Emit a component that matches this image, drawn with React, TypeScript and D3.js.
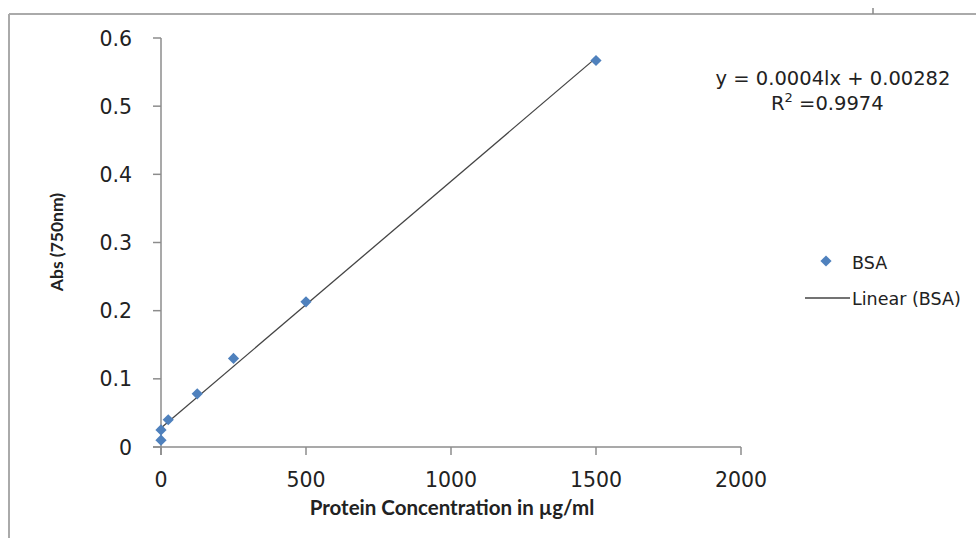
import React from "react";
import * as d3 from "d3";

const concentrations = [0, 0, 25, 125, 250, 500, 1500];
const absorbances = [0.01, 0.025, 0.04, 0.078, 0.13, 0.213, 0.567];
const xTicks = [0, 500, 1000, 1500, 2000];
const yTicks = [0, 0.1, 0.2, 0.3, 0.4, 0.5, 0.6];
const equationText = "y = 0.0004lx + 0.00282";
const r2Value = "=0.9974";
const seriesName = "BSA";
const trendName = "Linear (BSA)";

export default function App() {
  const W = 976, H = 538;
  const x = d3.scaleLinear().domain([0, 2000]).range([161, 741]);
  const y = d3.scaleLinear().domain([0, 0.6]).range([447, 38]);
  const pts = concentrations.map((c, i) => ({ c, a: absorbances[i] }));
  const mx = d3.mean(concentrations)!;
  const my = d3.mean(absorbances)!;
  let sxy = 0, sxx = 0;
  pts.forEach(p => { sxy += (p.c - mx) * (p.a - my); sxx += (p.c - mx) ** 2; });
  const slope = sxy / sxx;
  const icpt = my - slope * mx;
  const xmin = d3.min(concentrations)!, xmax = d3.max(concentrations)!;
  const line = d3.line<number>().x(v => x(v)).y(v => y(slope * v + icpt));
  const diamond = d3.symbol().type(d3.symbolDiamond2).size(80)()!;
  const blue = "#4f81bd";
  const axisCol = "#8c8c8c";
  const tickFont = "'DejaVu Sans', Verdana, sans-serif";
  return (
    <svg width={W} height={H} style={{ position: "absolute", left: 0, top: 0, background: "#fff" }}>
      <rect x={0} y={0} width={W} height={H} fill="#fff" />
      {/* outer frame */}
      <line x1={9} y1={14} x2={976} y2={14} stroke="#aaa" strokeWidth={2} />
      <line x1={9} y1={14} x2={9} y2={538} stroke="#aaa" strokeWidth={2} />
      <line x1={873} y1={8} x2={873} y2={14} stroke="#888" strokeWidth={1.5} />
      {/* y axis */}
      <line x1={161} y1={y(0.6)} x2={161} y2={y(0) + 8} stroke={axisCol} strokeWidth={1.5} />
      {yTicks.map(t => (
        <g key={"y" + t}>
          <line x1={153} x2={161} y1={y(t)} y2={y(t)} stroke={axisCol} strokeWidth={1.5} />
          <text x={132} y={y(t) + 7.5} textAnchor="end" fontFamily={tickFont} fontSize={20.5} fill="#222">{t === 0 ? "0" : t.toFixed(1)}</text>
        </g>
      ))}
      {/* x axis */}
      <line x1={153} y1={y(0)} x2={x(2000)} y2={y(0)} stroke={axisCol} strokeWidth={1.5} />
      {xTicks.map(t => (
        <g key={"x" + t}>
          <line x1={x(t)} x2={x(t)} y1={y(0)} y2={y(0) + 8} stroke={axisCol} strokeWidth={1.5} />
          <text x={x(t)} y={487} textAnchor="middle" fontFamily={tickFont} fontSize={20.5} fill="#222">{t}</text>
        </g>
      ))}
      {/* trendline */}
      <path d={line([xmin, xmax])!} stroke="#444" strokeWidth={1.3} fill="none" />
      {/* points */}
      {pts.map((p, i) => (
        <path key={i} d={diamond} transform={`translate(${x(p.c)},${y(p.a)})`} fill={blue} />
      ))}
      {/* axis titles */}
      <text x={452} y={515} textAnchor="middle" fontFamily="Lato, 'Open Sans', sans-serif" fontWeight="bold" fontSize={20.5} fill="#222">Protein Concentration in µg/ml</text>
      <text transform="translate(63,242) rotate(-90)" textAnchor="middle" fontFamily="Lato, 'Open Sans', sans-serif" fontWeight="bold" fontSize={17.5} fill="#222">Abs (750nm)</text>
      {/* equation */}
      <text x={833} y={85} textAnchor="middle" fontFamily={tickFont} fontSize={19.5} fill="#222">{equationText}</text>
      <text x={771} y={110} fontFamily={tickFont} fontSize={19.5} fill="#222">R<tspan dy={-8} fontSize={13}>2</tspan><tspan dy={8}> {r2Value}</tspan></text>
      {/* legend */}
      <path d={diamond} transform="translate(826,261)" fill={blue} />
      <text x={852} y={269} fontFamily={tickFont} fontSize={17.5} fill="#222">{seriesName}</text>
      <line x1={805} x2={850} y1={298} y2={298} stroke="#444" strokeWidth={1.3} />
      <text x={852} y={305} fontFamily={tickFont} fontSize={17.5} fill="#222">{trendName}</text>
    </svg>
  );
}
